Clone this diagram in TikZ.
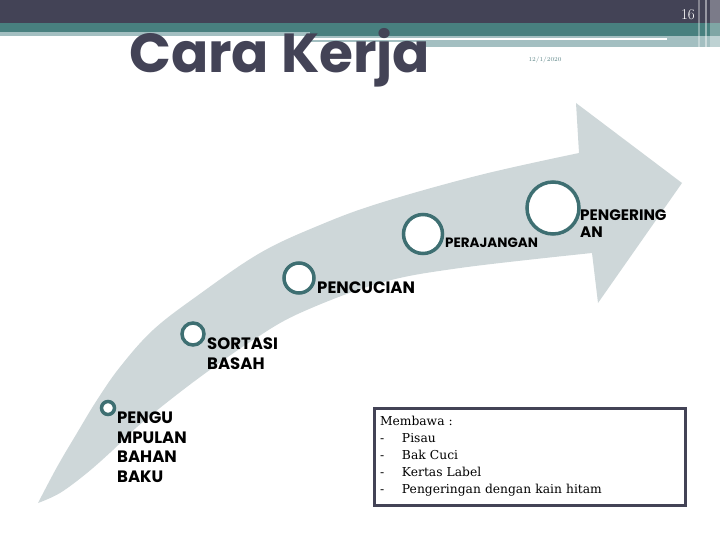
\documentclass[tikz,border=0pt]{standalone}
\usepackage{fontspec}
\usepackage{xcolor}
\usetikzlibrary{positioning}
\newfontfamily\titlefont{Poppins}
\newfontfamily\boxfont{DejaVu Serif}
\definecolor{topdark}{HTML}{434356}
\definecolor{topteal}{HTML}{48807F}
\definecolor{toplight}{HTML}{A3BFC1}
\definecolor{bandgray}{HTML}{CED7D9}
\definecolor{ringteal}{HTML}{3E6F72}
\definecolor{datecol}{HTML}{5E8688}

\begin{document}
\begin{tikzpicture}[x=1pt,y=-1pt,
 stepring/.style={circle,draw=ringteal,fill=white,line width=3.5pt,inner sep=0pt},
 steplabel/.style={anchor=north west,inner sep=0pt,align=left,font=\titlefont\bfseries\fontsize{16.5}{19.5}\selectfont},
 membox/.style={draw=topdark,line width=3pt,minimum width=311pt,minimum height=97pt,text width=299pt,inner xsep=6pt,align=left,font=\boxfont\fontsize{12.3}{17}\selectfont}]
\useasboundingbox (0,0) rectangle (720,540);
% header bands
\fill[topdark] (0,0) rectangle (720,23);
\fill[topteal] (0,23) rectangle (720,32);
\fill[toplight] (0,32) rectangle (310,36);
\fill[topteal] (310,32) rectangle (720,36);
\fill[toplight] (310,36) rectangle (720,42);
\fill[white] (310,38.5) rectangle (667,40.5);
\fill[toplight] (421,42) rectangle (720,47);
\fill[white,opacity=0.35] (698,0) rectangle (700,47);
\fill[white,opacity=0.45] (705,0) rectangle (707,47);
\fill[white,opacity=0.3] (710,0) rectangle (720,47);
\node[anchor=base east,inner sep=0pt,text=white,font=\fontsize{15}{15}\selectfont] (pageno) at (695,20) {16};
\node[anchor=base west,inner sep=0pt,text=topdark,font=\titlefont\bfseries\fontsize{55}{55}\selectfont] (title) at (129,73) {Cara Kerja};
\node[inner sep=0pt,text=datecol,font=\fontsize{6}{6}\selectfont] (date) at (545,60) {12/1/2020};
% curved arrow
\fill[bandgray] plot[smooth,tension=0.6] coordinates {(38,503) (57,467) (77,433) (97,400) (120,367) (153,330) (197,296) (260,253) (320,225) (380,203) (480,175) (579,153)}
 -- (576,103) -- (682,183) -- (598,303) --
 plot[smooth,tension=0.6] coordinates {(592,253) (460,268) (380,283) (300,313) (253,340) (207,372) (170,400) (137,427) (113,450) (87,473) (60,493) (38,503)} -- cycle;
% steps
\node[stepring,minimum size=13pt] (c1) at (108,408) {};
\node[stepring,minimum size=22pt] (c2) at (193,334) {};
\node[stepring,minimum size=30pt] (c3) at (299,278) {};
\node[stepring,minimum size=39pt] (c4) at (423,234) {};
\node[stepring,minimum size=52pt] (c5) at (553,208) {};
\node[steplabel] (l1) at (117,412) {PENGU\\MPULAN\\BAHAN\\BAKU};
\node[steplabel,font=\titlefont\bfseries\fontsize{16.5}{20}\selectfont] (l2) at (207,338) {SORTASI\\BASAH};
\node[steplabel] (l3) at (317,282) {PENCUCIAN};
\node[steplabel,font=\titlefont\bfseries\fontsize{13.5}{14}\selectfont] (l4) at (445,238) {PERAJANGAN};
\node[steplabel,font=\titlefont\bfseries\fontsize{15.2}{17}\selectfont] (l5) at (580,210) {PENGERING\\AN};
% what to bring
\node[membox] (box) at (529.5,456.5) {Membawa :\\
\makebox[22pt][l]{-}Pisau\\
\makebox[22pt][l]{-}Bak Cuci\\
\makebox[22pt][l]{-}Kertas Label\\
\makebox[22pt][l]{-}Pengeringan dengan kain hitam};
\end{tikzpicture}
\end{document}
